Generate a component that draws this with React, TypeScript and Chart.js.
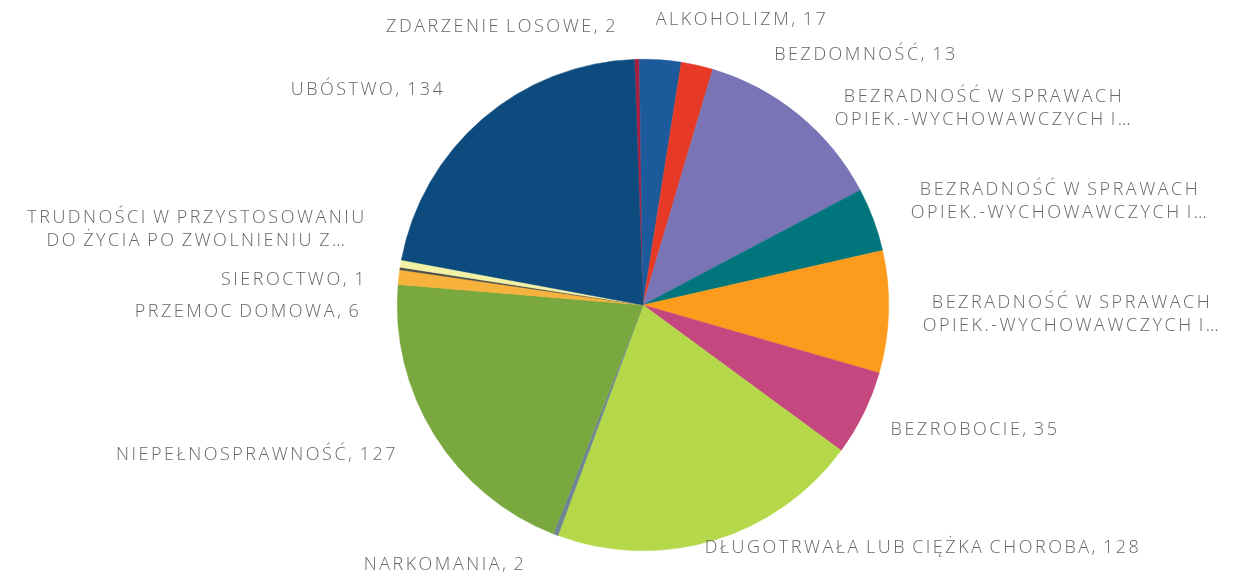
import { useEffect, useRef } from "react";
import { Chart, registerables } from "chart.js";

Chart.register(...registerables);

const categories = [
  "ZDARZENIE LOSOWE",
  "ALKOHOLIZM",
  "BEZDOMNOŚĆ",
  "BEZRADNOŚĆ W SPRAWACH OPIEK.-WYCHOWAWCZYCH I…",
  "BEZRADNOŚĆ W SPRAWACH OPIEK.-WYCHOWAWCZYCH I…",
  "BEZRADNOŚĆ W SPRAWACH OPIEK.-WYCHOWAWCZYCH I…",
  "BEZROBOCIE",
  "DŁUGOTRWAŁA LUB CIĘŻKA CHOROBA",
  "NARKOMANIA",
  "NIEPEŁNOSPRAWNOŚĆ",
  "PRZEMOC DOMOWA",
  "SIEROCTWO",
  "TRUDNOŚCI W PRZYSTOSOWANIU DO ŻYCIA PO ZWOLNIENIU Z…",
  "UBÓSTWO",
];

const values = [2, 17, 13, 79, 26, 50, 35, 128, 2, 127, 6, 1, 3, 134];

const colors = [
  "#a8203f",
  "#1c5a9c",
  "#e63a26",
  "#7874b6",
  "#00767c",
  "#fd9c1c",
  "#c5477f",
  "#b4d84a",
  "#6e8596",
  "#79a83f",
  "#f6b23a",
  "#4d4d4d",
  "#f3f1a6",
  "#0d4a7d",
];

// labels shown as truncated two-line text in the chart
const wrappedLabels: Record<number, string[]> = {
  3: ["BEZRADNOŚĆ W SPRAWACH", "OPIEK.-WYCHOWAWCZYCH I…"],
  4: ["BEZRADNOŚĆ W SPRAWACH", "OPIEK.-WYCHOWAWCZYCH I…"],
  5: ["BEZRADNOŚĆ W SPRAWACH", "OPIEK.-WYCHOWAWCZYCH I…"],
  12: ["TRUDNOŚCI W PRZYSTOSOWANIU", "DO ŻYCIA PO ZWOLNIENIU Z…"],
};

// label placement relative to pie centre (layout only)
const labelOffsets: [number, number][] = [
  [-141, -278],
  [99, -285],
  [223, -250],
  [341, -197],
  [417, -104],
  [429, 9],
  [332, 125],
  [280, 243],
  [-198, 260],
  [-386, 150],
  [-395, 7],
  [-349, -25],
  [-446, -76],
  [-275, -215],
];

const outerLabels = {
  id: "outerLabels",
  afterDraw(chart: any) {
    const ctx = chart.ctx as CanvasRenderingContext2D;
    const meta = chart.getDatasetMeta(0);
    ctx.save();
    ctx.font = "300 18px 'Open Sans'";
    ctx.fillStyle = "#666666";
    ctx.textAlign = "center";
    ctx.textBaseline = "middle";
    (ctx as any).letterSpacing = "2.5px";
    (ctx as any).wordSpacing = "-2px";
    meta.data.forEach((arc: any, i: number) => {
      const { x, y } = arc.getProps(["x", "y"], true);
      const [dx, dy] = labelOffsets[i];
      const lines = wrappedLabels[i] ?? [`${categories[i]}, ${values[i]}`];
      const lh = 23;
      lines.forEach((line, j) => {
        ctx.fillText(line, x + dx, y + dy + (j - (lines.length - 1) / 2) * lh);
      });
    });
    ctx.restore();
  },
};

export default function App() {
  const ref = useRef<HTMLCanvasElement | null>(null);
  useEffect(() => {
    if (!ref.current) return;
    const chart = new Chart(ref.current, {
      type: "pie",
      data: {
        labels: categories,
        datasets: [
          {
            data: values,
            backgroundColor: colors,
            borderColor: colors,
            borderWidth: 0.5,
            hoverOffset: 0,
            offset: 0,
          },
        ],
      },
      options: {
        animation: false,
        responsive: false,
        rotation: -2,
        layout: { padding: { left: 397, right: 352, top: 59, bottom: 31 } },
        plugins: {
          legend: { display: false },
          tooltip: { enabled: false },
        },
      },
      plugins: [outerLabels],
    });
    return () => chart.destroy();
  }, []);
  return (
    <div
      style={{
        position: "absolute",
        left: 0,
        top: 0,
        width: 1241,
        height: 582,
        background: "#ffffff",
      }}
    >
      <canvas ref={ref} width={1241} height={582} />
    </div>
  );
}
